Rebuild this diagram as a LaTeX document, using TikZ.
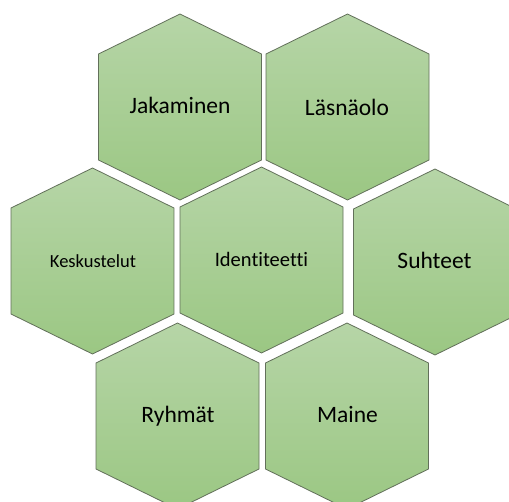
\documentclass[tikz,border=0pt]{standalone}
\usepackage{fontspec}
\setmainfont[Ligatures={NoCommon,NoRare}]{Carlito}
\definecolor{hextop}{RGB}{182,213,167}
\definecolor{hexbot}{RGB}{155,199,131}
\definecolor{hexline}{RGB}{98,112,90}
\tikzset{
  hexcell/.style={draw=hexline, line width=0.8pt, line join=miter, top color=hextop, bottom color=hexbot},
  hexagon/.pic={\path[hexcell] (0,-93) -- (81.5,-53) -- (81.5,53) -- (0,93) -- (-81.5,53) -- (-81.5,-53) -- cycle;},
  lbl/.style={anchor=base, inner sep=0pt, text=black, font=\fontsize{23.5}{28}\selectfont},
  lblsmall/.style={lbl, font=\fontsize{18.5}{22}\selectfont},
  lblmid/.style={lbl, font=\fontsize{20.5}{24}\selectfont}
}
\begin{document}
\begin{tikzpicture}[x=1pt,y=-1pt]
\useasboundingbox (0,0) rectangle (509,501);
\clip (0,0) rectangle (509,501);
\fill[white] (0,0) rectangle (509,501);
% hexagons
\pic at (180,107) {hexagon};
\pic at (347.5,107) {hexagon};
\pic at (92.5,261) {hexagon};
\pic at (261.5,260) {hexagon};
\pic at (435,262) {hexagon};
\pic at (177.5,416) {hexagon};
\pic at (347,416) {hexagon};
% labels
\node[lbl] (jak) at (180,113) {Jakaminen};
\node[lbl] (las) at (347,115) {Läsnäolo};
\node[lblsmall] (kes) at (93,267) {Keskustelut};
\node[lblmid] (ide) at (261.5,266) {Identiteetti};
\node[lbl] (suh) at (434.5,268) {Suhteet};
\node[lbl] (ryh) at (178,422) {Ryhmät};
\node[lbl] (mai) at (347.5,422) {Maine};
\end{tikzpicture}
\end{document}
